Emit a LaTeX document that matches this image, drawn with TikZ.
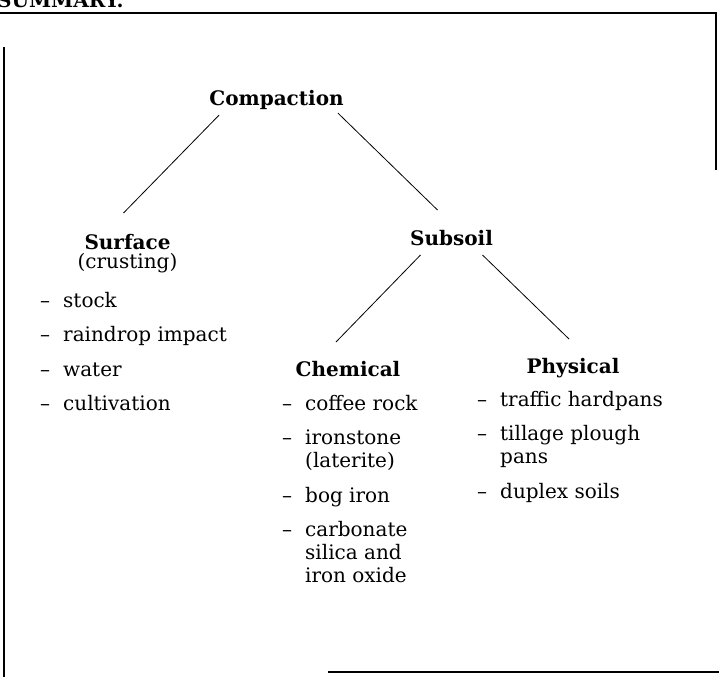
\documentclass[tikz,border=0pt]{standalone}
\usepackage{fontspec}
\setmainfont{DejaVu Serif}
\usepackage{tikz}
\tikzset{font=\fontsize{20}{23}\selectfont}
\tikzset{every node/.append style={transform shape=false}}
\tikzset{head/.style={font=\fontsize{20}{23}\selectfont\bfseries, anchor=base, inner sep=0pt},
  lst/.style={anchor=north west, inner sep=0pt},
  link/.style={line width=0.8pt},
  frame/.style={line width=1.5pt}}
\newcommand{\nxt}{\\[11.5pt]}

\begin{document}
\begin{tikzpicture}[x=1pt, y=-1pt]
\useasboundingbox (0,0) rectangle (719,677);
\clip (0,0) rectangle (719,677);
\node[head, anchor=base west] (title) at (-3,8) {SUMMARY.};
\draw[frame] (0,13) -- (716,13) -- (716,170);
\draw[frame] (4,47) -- (4,677);
\draw[frame] (328,672) -- (719,672);
\node[head] (comp) at (276.5,105) {Compaction};
\node[head] (surf) at (127.5,249) {Surface};
\node[anchor=base, inner sep=0pt] (crust) at (127.5,268) {(crusting)};
\node[head] (subs) at (451.5,245) {Subsoil};
\node[head] (chem) at (348,376) {Chemical};
\node[head] (phys) at (573,373) {Physical};
\draw[link] ([shift={(10,10)}]comp.base west) -- ([shift={(-4,-36)}]surf.base);
\draw[link] ([shift={(-6,8)}]comp.base east) -- ([shift={(-14,-35)}]subs.base);
\draw[link] ([shift={(-31,10)}]subs.base) -- ([shift={(-12,-34)}]chem.base);
\draw[link] ([shift={(31,10)}]subs.base) -- ([shift={(-4,-34)}]phys.base);
\node[lst] (surflist) at (40,291) {\begin{tabular}{@{}l@{\hspace{13pt}}l@{}}
 -- & stock\nxt
 -- & raindrop impact\nxt
 -- & water\nxt
 -- & cultivation
\end{tabular}};
\node[lst] (chemlist) at (282,394) {\begin{tabular}{@{}l@{\hspace{13pt}}l@{}}
 -- & coffee rock\nxt
 -- & ironstone\\ & (laterite)\nxt
 -- & bog iron\nxt
 -- & carbonate\\ & silica and\\ & iron oxide
\end{tabular}};
\node[lst] (physlist) at (477,390) {\begin{tabular}{@{}l@{\hspace{13pt}}l@{}}
 -- & traffic hardpans\nxt
 -- & tillage plough\\ & pans\nxt
 -- & duplex soils
\end{tabular}};
%\node at (717,259) {-};
\end{tikzpicture}
\end{document}
